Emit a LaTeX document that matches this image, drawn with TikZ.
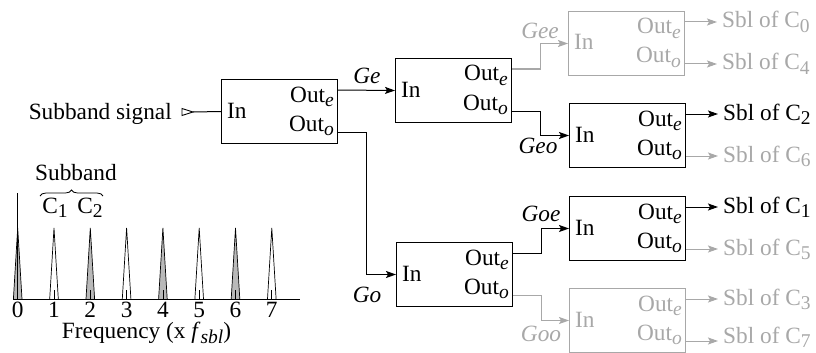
\documentclass[tikz,border=0pt]{standalone}
\usepackage{fontspec}
\setmainfont{Liberation Serif}
\usetikzlibrary{arrows.meta,calc,decorations.pathreplacing}
\definecolor{gc}{RGB}{168,168,168}
\definecolor{fillg}{RGB}{185,185,185}
\newcommand\sbs[1]{\raisebox{-4.5pt}{\fontsize{19.5}{19.5}\selectfont #1}}
\newcommand\mkblock[4]{%
  \node[blk,draw=#4] (#1) at (#2,#3) {};
  \node[txt,text=#4,anchor=base west] (#1-in) at ($(#1.north west)+(6,39)$) {In};
  \node[txt,text=#4,anchor=base east] (#1-te) at ($(#1.north east)+(-4,23)$) {Out\sbs{\textit{e}}};
  \node[txt,text=#4,anchor=base east] (#1-to) at ($(#1.north east)+(-4,52)$) {Out\sbs{\textit{o}}};
  \coordinate (#1-oe) at ($(#1.north east)+(0,11)$);
  \coordinate (#1-oo) at ($(#1.north east)+(0,53)$);
}
\begin{document}
\begin{tikzpicture}[x=1pt,y=-1pt,font=\fontsize{23.3}{27}\selectfont,
  blk/.style={draw,line width=1pt,minimum width=116pt,minimum height=64pt,inner sep=0pt,anchor=north west},
  txt/.style={inner sep=0pt},
  wire/.style={line width=1pt},
  arr/.style={wire,-{Stealth[length=10pt,width=7pt,inset=2pt]}},
  lbl/.style={inner sep=0pt,anchor=base,font=\fontsize{23.3}{27}\selectfont\itshape}]
\useasboundingbox (0,0) rectangle (816,353);

% blocks
\mkblock{A}{221}{79}{black}
\mkblock{B}{395}{58}{black}
\mkblock{Gee}{568}{11}{gc}
\mkblock{Geo}{569}{103}{black}
\mkblock{Go}{396}{242}{black}
\mkblock{Goe}{569}{196}{black}
\mkblock{Goo}{569}{288}{gc}

% input
\node[txt,anchor=base east] (sig) at (172,119) {Subband signal};
\coordinate (tipR) at (193,112);
\draw[line width=0.9pt] (182,108.5) -- (tipR) -- (182,115.5) -- cycle;
\draw[wire] (tipR) -- (A.west);

% connectors
\draw[arr] (A-oe) -- (B.west);
\draw[arr] (A-oo) -| ([xshift=-30pt]Go.west) -- (Go.west);
\draw[arr,gc] (B-oe) -| ([xshift=-28pt]Gee.west) -- (Gee.west);
\draw[arr] (B-oo) -| ([xshift=-29pt]Geo.west) -- (Geo.west);
\draw[arr] (Go-oe) -| ([xshift=-28pt]Goe.west) -- (Goe.west);
\draw[arr,gc] (Go-oo) -| ([xshift=-28pt]Goo.west) -- (Goo.west);

% branch labels
\node[lbl] (lGe) at (367,84) {Ge};
\node[lbl] (lGo) at (367,302) {Go};
\node[lbl,text=gc] (lGee) at (540,39) {Gee};
\node[lbl] (lGeo) at (538,153) {Geo};
\node[lbl] (lGoe) at (541,221) {Goe};
\node[lbl,text=gc] (lGoo) at (541,341) {Goo};

% outputs
\node[txt,text=gc,anchor=base west] (s0) at ($(Gee-oe)+(37,6)$) {Sbl of C\sbs{0}};
\draw[arr,gc] (Gee-oe) -- ($(s0.base west)+(-5,-6)$);
\node[txt,text=gc,anchor=base west] (s4) at ($(Gee-oo)+(37,6)$) {Sbl of C\sbs{4}};
\draw[arr,gc] (Gee-oo) -- ($(s4.base west)+(-5,-6)$);
\node[txt,anchor=base west] (s2) at ($(Geo-oe)+(37,6)$) {Sbl of C\sbs{2}};
\draw[arr] (Geo-oe) -- ($(s2.base west)+(-5,-6)$);
\node[txt,text=gc,anchor=base west] (s6) at ($(Geo-oo)+(37,6)$) {Sbl of C\sbs{6}};
\draw[arr,gc] (Geo-oo) -- ($(s6.base west)+(-5,-6)$);
\node[txt,anchor=base west] (s1) at ($(Goe-oe)+(37,6)$) {Sbl of C\sbs{1}};
\draw[arr] (Goe-oe) -- ($(s1.base west)+(-5,-6)$);
\node[txt,text=gc,anchor=base west] (s5) at ($(Goe-oo)+(37,6)$) {Sbl of C\sbs{5}};
\draw[arr,gc] (Goe-oo) -- ($(s5.base west)+(-5,-6)$);
\node[txt,text=gc,anchor=base west] (s3) at ($(Goo-oe)+(37,6)$) {Sbl of C\sbs{3}};
\draw[arr,gc] (Goo-oe) -- ($(s3.base west)+(-5,-6)$);
\node[txt,text=gc,anchor=base west] (s7) at ($(Goo-oo)+(37,2)$) {Sbl of C\sbs{7}};
\draw[arr,gc] (Goo-oo) -- ($(s7.base west)+(-5,-2)$);

% spectrum
\coordinate (bl) at (13,299);
\coordinate (br) at (300,299);
\foreach \n in {0,...,7}{
  \pgfmathsetmacro\px{17.7+36.3*\n}
  \ifodd\n \def\fc{white}\else \def\fc{fillg}\fi
  \filldraw[fill=\fc,line width=0.7pt] (\px-4.3,299) -- (\px,228) -- (\px+4.3,299);
  \draw[line width=0.7pt] (\px,299) -- (\px,290);
  \node[txt,anchor=base] (d\n) at (\px,317) {\n};
}
\draw[line width=0.9pt] (17.7,299) -- (17.7,193);
\draw[line width=1pt] (bl) -- (br);
\node[txt,anchor=base] (sb) at (76,180) {Subband};
\coordinate (brL) at (40,196);
\coordinate (brR) at (103,196);
\draw[decorate,decoration={brace,amplitude=6pt},line width=0.8pt] (brL) -- (brR);
\node[txt,anchor=base] (c1) at (55,213) {C\sbs{1}};
\node[txt,anchor=base] (c2) at (90,213) {C\sbs{2}};
\node[txt,anchor=base] (fq) at (146.5,338.5) {Frequency (x \textit{f}\sbs{\textit{sbl}})};
\end{tikzpicture}
\end{document}
